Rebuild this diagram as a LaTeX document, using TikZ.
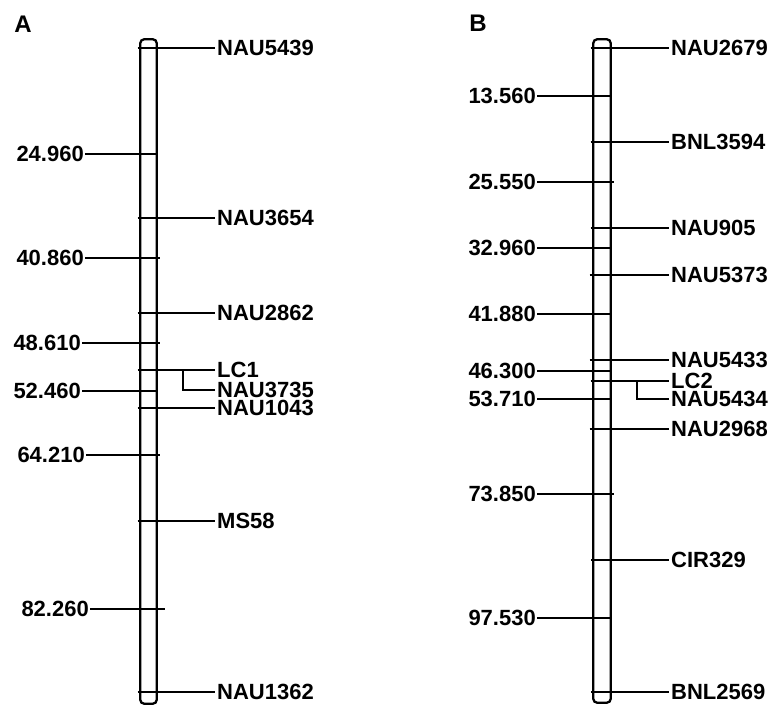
\documentclass[tikz,border=0pt]{standalone}
\usepackage{fontspec}
\setmainfont{Liberation Sans}
\usepackage{tikz}
\usetikzlibrary{positioning}

\begin{document}
\begin{tikzpicture}[x=1pt, y=-1pt,
      chrom/.style={draw, line width=2.3pt, rounded corners=4pt, inner sep=0pt},
      locus/.style={anchor=west, inner xsep=2pt, inner ysep=0pt, font=\bfseries\fontsize{22}{26}\selectfont},
      posn/.style={anchor=east, inner xsep=1pt, inner ysep=0pt, font=\bfseries\fontsize{22}{26}\selectfont},
      tick/.style={line width=1.1pt},
      qtl/.style={line width=2.6pt}]
    \useasboundingbox (0,0) rectangle (771,707);
    % panel A
    \node[inner sep=0pt, font=\bfseries\fontsize{24}{28}\selectfont] (panA) at (23,24) {A};
    \node[chrom, minimum width=16.5pt, minimum height=664.5pt] (chrA) at (148.5,371.5) {};
    \node[locus] (nau5439) at (215,48)  {NAU5439};
    \node[locus] (nau3654) at (215,218) {NAU3654};
    \node[locus] (nau2862) at (215,313) {NAU2862};
    \node[locus] (lc1)     at (215,370) {LC1};
    \node[locus] (nau3735) at (215,390) {NAU3735};
    \node[locus] (nau1043) at (215,408) {NAU1043};
    \node[locus] (ms58)    at (215,521) {MS58};
    \node[locus] (nau1362) at (215,692) {NAU1362};
    \node[posn] (a24960) at (85,154) {24.960};
    \node[posn] (a40860) at (85,258) {40.860};
    \node[posn] (a48610) at (82,343) {48.610};
    \node[posn] (a52460) at (82,391) {52.460};
    \node[posn] (a64210) at (86,455) {64.210};
    \node[posn] (a82260) at (90,609) {82.260};
    \coordinate (lc1k) at ([xshift=-32pt]lc1.west);
    \draw[tick] ([xshift=-1.5pt]chrA.west |- nau5439) -- (nau5439.west);
    \draw[tick] ([xshift=-1.5pt]chrA.west |- nau3654) -- (nau3654.west);
    \draw[tick] ([xshift=-1.5pt]chrA.west |- nau2862) -- (nau2862.west);
    \draw[tick] ([xshift=-1.5pt]chrA.west |- lc1) -- (lc1.west);
    \draw[qtl] ([xshift=2.75pt]chrA.west |- lc1) -- (lc1k);
    \draw[tick] (lc1k) |- (nau3735.west);
    \draw[tick] ([xshift=-1.5pt]chrA.west |- nau1043) -- (nau1043.west);
    \draw[tick] ([xshift=-1.5pt]chrA.west |- ms58) -- (ms58.west);
    \draw[tick] ([xshift=-1.5pt]chrA.west |- nau1362) -- (nau1362.west);
    \draw[tick] (a24960.east) -- (chrA.east |- a24960);
    \draw[tick] (a40860.east) -- ([xshift=2pt]chrA.east |- a40860);
    \draw[tick] (a48610.east) -- ([xshift=2pt]chrA.east |- a48610);
    \draw[tick] (a52460.east) -- (chrA.east |- a52460);
    \draw[tick] (a64210.east) -- ([xshift=2pt]chrA.east |- a64210);
    \draw[tick] (a82260.east) -- ([xshift=7pt]chrA.east |- a82260);
    % panel B
    \node[inner sep=0pt, font=\bfseries\fontsize{24}{28}\selectfont] (panB) at (478,23) {B};
    \node[chrom, minimum width=17.5pt, minimum height=663.5pt] (chrB) at (602,371) {};
    \node[locus] (nau2679) at (669,48)  {NAU2679};
    \node[locus] (bnl3594) at (669,142) {BNL3594};
    \node[locus] (nau905)  at (669,228) {NAU905};
    \node[locus] (nau5373) at (669,275) {NAU5373};
    \node[locus] (nau5433) at (669,360) {NAU5433};
    \node[locus] (lc2)     at (669,381) {LC2};
    \node[locus] (nau5434) at (669,399) {NAU5434};
    \node[locus] (nau2968) at (669,429) {NAU2968};
    \node[locus] (cir329)  at (669,560) {CIR329};
    \node[locus] (bnl2569) at (669,692) {BNL2569};
    \node[posn] (b13560) at (537,96)  {13.560};
    \node[posn] (b25550) at (537,182) {25.550};
    \node[posn] (b32960) at (537,248) {32.960};
    \node[posn] (b41880) at (537,314) {41.880};
    \node[posn] (b46300) at (537,371) {46.300};
    \node[posn] (b53710) at (537,399) {53.710};
    \node[posn] (b73850) at (537,494) {73.850};
    \node[posn] (b97530) at (537,618) {97.530};
    \coordinate (lc2k) at ([xshift=-32pt]lc2.west);
    \draw[tick] ([xshift=-1.5pt]chrB.west |- nau2679) -- (nau2679.west);
    \draw[tick] ([xshift=-1.5pt]chrB.west |- bnl3594) -- (bnl3594.west);
    \draw[tick] ([xshift=-1.5pt]chrB.west |- nau905) -- (nau905.west);
    \draw[tick] ([xshift=-2.5pt]chrB.west |- nau5373) -- (nau5373.west);
    \draw[tick] ([xshift=-2.5pt]chrB.west |- nau5433) -- (nau5433.west);
    \draw[tick] ([xshift=-1.5pt]chrB.west |- lc2) -- (lc2.west);
    \draw[qtl] ([xshift=4.75pt]chrB.west |- lc2) -- (lc2k);
    \draw[tick] (lc2k) |- (nau5434.west);
    \draw[tick] ([xshift=-2.5pt]chrB.west |- nau2968) -- (nau2968.west);
    \draw[tick] ([xshift=-1pt]chrB.west |- cir329) -- (cir329.west);
    \draw[tick] ([xshift=-1pt]chrB.west |- bnl2569) -- (bnl2569.west);
    \draw[tick] (b13560.east) -- (chrB.east |- b13560);
    \draw[tick] (b25550.east) -- ([xshift=2pt]chrB.east |- b25550);
    \draw[tick] (b32960.east) -- (chrB.east |- b32960);
    \draw[tick] (b41880.east) -- (chrB.east |- b41880);
    \draw[tick] (b46300.east) -- (chrB.east |- b46300);
    \draw[tick] (b53710.east) -- (chrB.east |- b53710);
    \draw[tick] (b73850.east) -- ([xshift=2pt]chrB.east |- b73850);
    \draw[tick] (b97530.east) -- (chrB.east |- b97530);
\end{tikzpicture}
\end{document}
